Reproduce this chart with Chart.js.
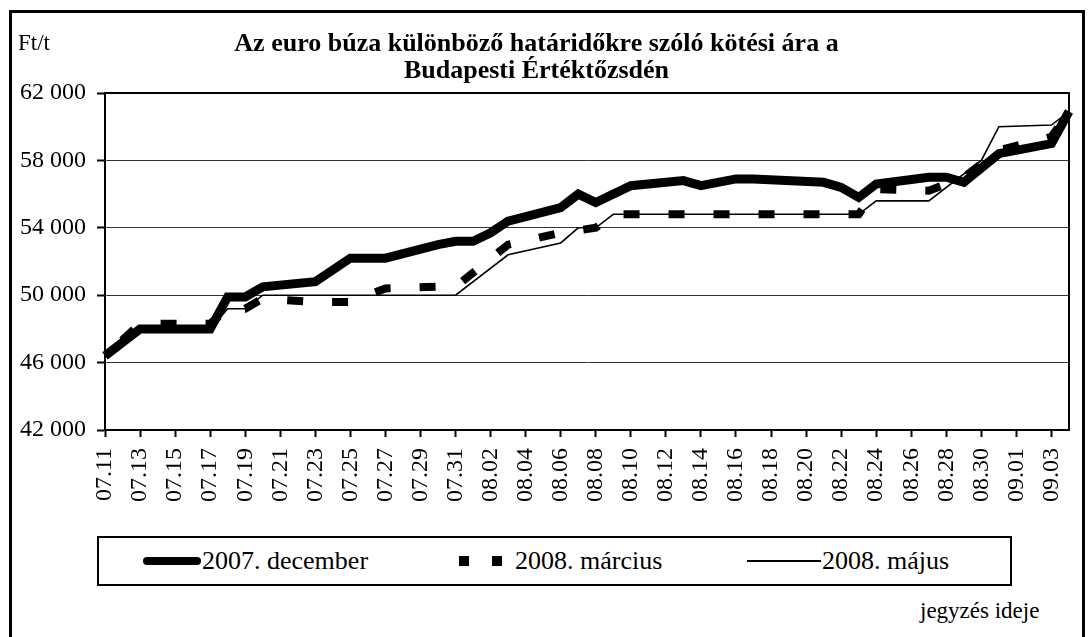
<!DOCTYPE html>
<html>
<head>
<meta charset="utf-8">
<script src="https://cdn.jsdelivr.net/npm/chart.js@4"></script>
<style>
  body { margin: 0; background: #fff; font-family: "Liberation Serif", "Times New Roman", serif; color: #000; }
  #frame { position: absolute; left: 9px; top: 10px; width: 1076px; height: 640px; border: 3px solid #000; box-sizing: border-box; }
  #chartBox { position: absolute; left: 0; top: 0; width: 1092px; height: 520px; }
  .txt { position: absolute; white-space: nowrap; }
  #title { left: 0; top: 29px; width: 1073px; text-align: center; font-weight: bold; font-size: 26px; line-height: 27px; }
  #unit { left: 18px; top: 30px; font-size: 23px; line-height: 26px; }
  #xname { left: 920px; top: 598px; font-size: 23px; line-height: 26px; }
  #legend { position: absolute; left: 97px; top: 536px; width: 915px; height: 50px; border: 2px solid #000; box-sizing: border-box; }
  .leg { font-size: 26px; line-height: 26px; top: 548px; }
  .sample { position: absolute; background: #000; }
</style>
</head>
<body>
<div id="frame"></div>
<div id="chartBox"><canvas id="wheatChart"></canvas></div>
<div class="txt" id="unit">Ft/t</div>
<div class="txt" id="title">Az euro búza különböző határidőkre szóló kötési ára a<br>Budapesti Értéktőzsdén</div>
<div id="legend"></div>
<div class="sample" style="left:143px;top:557px;width:58px;height:8px;border-radius:4px"></div>
<div class="txt leg" style="left:202px">2007. december</div>
<div class="sample" style="left:459px;top:556px;width:10px;height:10px"></div>
<div class="sample" style="left:492px;top:556px;width:10px;height:10px"></div>
<div class="txt leg" style="left:515px">2008. március</div>
<div class="sample" style="left:747px;top:560px;width:74px;height:2px"></div>
<div class="txt leg" style="left:822px">2008. május</div>
<div class="txt" id="xname">jegyzés ideje</div>

<script>
// Napok (07.11 - 09.04), minden nap egy kategória
const dates = [
  '07.11','07.12','07.13','07.14','07.15','07.16','07.17','07.18','07.19','07.20',
  '07.21','07.22','07.23','07.24','07.25','07.26','07.27','07.28','07.29','07.30',
  '07.31','08.01','08.02','08.03','08.04','08.05','08.06','08.07','08.08','08.09',
  '08.10','08.11','08.12','08.13','08.14','08.15','08.16','08.17','08.18','08.19',
  '08.20','08.21','08.22','08.23','08.24','08.25','08.26','08.27','08.28','08.29',
  '08.30','08.31','09.01','09.02','09.03','09.04'
];

// Kötési árak (Ft/t), null = nincs töréspont
const dec2007 = [
  46400, null, 48000, null, null, null, 48000, 49900, 49900, 50500,
  null, null, 50800, null, 52200, null, 52200, null, null, 53000,
  53200, 53200, 53700, 54400, null, null, 55200, 56000, 55500, null,
  56500, null, null, 56800, 56500, null, 56900, 56900, null, null,
  null, 56700, 56400, 55800, 56600, null, null, 57000, 57000, 56700,
  null, 58400, null, null, 59000, 60900
];

const mar2008 = [
  46400, null, 48300, null, null, null, 48300, 49200, 49200, 49800,
  null, null, 49600, null, 49600, null, 50400, null, null, 50500,
  50500, null, null, 53000, null, null, 53700, null, 54000, 54800,
  null, null, null, null, null, null, null, null, null, null,
  null, null, 54800, 54800, 56300, null, null, 56200, null, 57000,
  null, 58600, null, null, 59400, 60900
];

const may2008 = [
  46400, null, 48000, null, null, null, 48000, 49200, 49200, 50000,
  null, null, null, null, null, null, null, null, null, null,
  50000, null, null, 52400, null, null, 53100, 54000, 54000, 54800,
  null, null, null, null, null, null, null, null, null, null,
  null, null, null, 54800, 55600, null, null, 55600, null, null,
  58000, 60000, null, null, 60100, 60900
];

const yMin = 42000;
const yMax = 62000;
const yStep = 4000;

Chart.defaults.font.family = "'Liberation Serif', 'Times New Roman', serif";
Chart.defaults.color = '#000';

// Keret a rajzterület köré
const plotFrame = {
  id: 'plotFrame',
  afterDatasetsDraw(chart) {
    const a = chart.chartArea;
    const c = chart.ctx;
    c.save();
    c.strokeStyle = '#000';
    c.lineWidth = 2;
    c.strokeRect(a.left, a.top, a.right - a.left, a.bottom - a.top);
    c.restore();
  }
};

function fmt(v) {
  return String(v).replace(/\B(?=(\d{3})+(?!\d))/g, ' ');
}

const ctx = document.getElementById('wheatChart').getContext('2d');
new Chart(ctx, {
  type: 'line',
  data: {
    labels: dates,
    datasets: [
      {
        label: '2007. december',
        data: dec2007,
        borderColor: '#000',
        borderWidth: 9,
        spanGaps: true,
        pointRadius: 0,
        tension: 0,
        order: 1
      },
      {
        label: '2008. március',
        data: mar2008,
        borderColor: '#000',
        borderWidth: 8,
        borderDash: [16, 29],
        borderDashOffset: 22,
        borderCapStyle: 'butt',
        spanGaps: true,
        pointRadius: 0,
        tension: 0,
        order: 2
      },
      {
        label: '2008. május',
        data: may2008,
        borderColor: '#000',
        borderWidth: 1.6,
        spanGaps: true,
        pointRadius: 0,
        tension: 0,
        order: 3
      }
    ]
  },
  options: {
    responsive: true,
    maintainAspectRatio: false,
    animation: false,
    layout: { padding: { left: 0, right: 23, top: 93, bottom: 0 } },
    plugins: {
      legend: { display: false },
      tooltip: { enabled: false }
    },
    scales: {
      x: {
        type: 'category',
        offset: false,
        border: { color: '#000', width: 2 },
        grid: {
          drawOnChartArea: false,
          drawTicks: true,
          tickLength: 7,
          tickColor: '#000',
          tickWidth: 2
        },
        ticks: {
          autoSkip: false,
          maxRotation: 90,
          minRotation: 90,
          padding: 11,
          font: { size: 24 },
          callback: function (v, i) { return i % 2 === 0 ? dates[i] : null; }
        },
        afterFit: function (s) { s.height = 90; }
      },
      y: {
        min: yMin,
        max: yMax,
        border: { color: '#000', width: 2 },
        grid: {
          color: '#333',
          lineWidth: 1,
          tickLength: 8,
          tickColor: '#000',
          tickWidth: 2
        },
        ticks: {
          stepSize: yStep,
          padding: 11,
          font: { size: 24 },
          callback: function (v) { return fmt(v); }
        },
        afterFit: function (s) { s.width = 105; }
      }
    }
  },
  plugins: [plotFrame]
});
</script>
</body>
</html>
